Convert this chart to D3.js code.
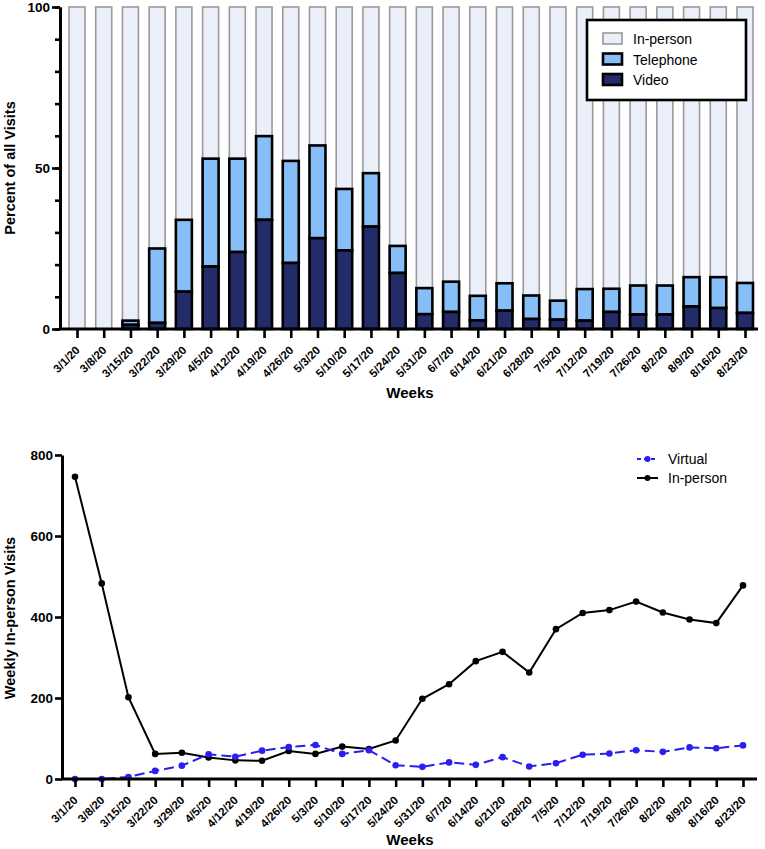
<!DOCTYPE html>
<html lang="en">
<head>
<meta charset="utf-8" />
<script src="https://cdn.jsdelivr.net/npm/d3@7"></script>
<style>
  body { margin: 0; background: #fff; }
  text { font-family: "Liberation Sans", Arial, sans-serif; }
</style>
</head>
<body>
<script>

var weeks = ["3/1/20","3/8/20","3/15/20","3/22/20","3/29/20","4/5/20","4/12/20","4/19/20",
  "4/26/20","5/3/20","5/10/20","5/17/20","5/24/20","5/31/20","6/7/20","6/14/20","6/21/20",
  "6/28/20","7/5/20","7/12/20","7/19/20","7/26/20","8/2/20","8/9/20","8/16/20","8/23/20"];

// percent of all visits (top chart)
var videoPct =     [0,0,1.3,1.9,11.6,19.4,23.9,33.9,20.5,28.2,24.4,31.8,17.4,4.6,5.3,2.7,5.7,3.1,2.9,2.6,5.3,4.5,4.5,7.0,6.5,5.0];
var telephonePct = [0,0,1.3,23.1,22.3,33.5,29.0,26.0,31.7,28.8,19.1,16.6,8.4,8.1,9.4,7.6,8.5,7.3,5.9,9.8,7.2,9.0,9.0,9.1,9.6,9.3];
var inPersonPct =  [100,100,97.4,75.0,66.1,47.1,47.1,40.1,47.8,43.0,56.5,51.6,74.2,87.3,85.3,89.7,85.8,89.6,91.2,87.6,87.5,86.5,86.5,83.9,83.9,85.7];

// weekly visits (bottom chart)
var virtualVisits =  [0,0,5,20,33,61,55,70,79,84,62,71,34,30,41,35,54,31,39,60,63,71,67,78,76,83];
var inPersonVisits = [746,483,202,62,65,53,46,45,69,62,80,74,95,198,234,291,314,263,370,410,417,438,411,394,385,478];

var pctTicks = [0, 50, 100];
var visitTicks = [0, 200, 400, 600, 800];

var w = 765, h = 849;
var svg = d3.select("body").append("svg").attr("width", w).attr("height", h);

var rows = weeks.map(function(d, i) {
  return { week: d, Video: videoPct[i], Telephone: telephonePct[i], "In-person": inPersonPct[i] };
});
var keys = ["Video", "Telephone", "In-person"];
var fills = { "Video": "#232b69", "Telephone": "#86bef7", "In-person": "#ebeffa" };
var strokes = { "Video": "#000", "Telephone": "#000", "In-person": "#9a9a9a" };

//---------- top chart
var x1 = d3.scalePoint().domain(weeks).range([77, 745]);
var y1 = d3.scaleLinear().domain([0, 100]).range([329, 7]);
var barW = 16;

var series = d3.stack().keys(keys)(rows);
var topG = svg.append("g");

// draw in-person first so the outlined virtual segments sit on top
[2, 1, 0].forEach(function(k) {
  var s = series[k];
  topG.append("g").selectAll("rect")
    .data(s)
    .enter()
    .append("rect")
    .attr("x", function(d) { return x1(d.data.week) - barW / 2; })
    .attr("y", function(d) { return y1(d[1]); })
    .attr("width", barW)
    .attr("height", function(d) { return y1(d[0]) - y1(d[1]); })
    .attr("fill", fills[s.key])
    .attr("stroke", strokes[s.key])
    .attr("stroke-width", s.key == "In-person" ? 1.6 : 2.6)
    .style("display", function(d) { return (d[1] - d[0]) > 0 ? null : "none"; });
});

// y axis top
var yAxis1 = topG.append("g").attr("transform", "translate(60,0)");
yAxis1.call(d3.axisLeft(y1).tickValues(d3.range(0, 101, 10)).tickSize(5).tickFormat("").tickSizeOuter(0));
yAxis1.append("g").call(d3.axisLeft(y1).tickValues(pctTicks).tickSize(8).tickSizeOuter(0));
styleAxis(yAxis1);
yAxis1.selectAll("text").attr("x", -10).style("font-size", "13.5px");

// x axis top
var xAxis1 = topG.append("g").attr("transform", "translate(0,329)");
xAxis1.call(d3.axisBottom(x1).tickSize(9).tickSizeOuter(0));
xAxis1.select(".domain").remove();
xAxis1.append("line").attr("x1", 59).attr("x2", 758).attr("stroke", "#000").attr("stroke-width", 3);
styleAxis(xAxis1);
rotateLabels(xAxis1);

topG.append("text")
  .attr("transform", "translate(15,168) rotate(-90)")
  .attr("text-anchor", "middle")
  .style("font-size", "14.5px").style("font-weight", "bold")
  .text("Percent of all Visits");
topG.append("text")
  .attr("x", 410).attr("y", 398)
  .attr("text-anchor", "middle")
  .style("font-size", "15px").style("font-weight", "bold")
  .text("Weeks");

// legend top
var leg1 = topG.append("g");
leg1.append("rect").attr("x", 587).attr("y", 20).attr("width", 159).attr("height", 80)
  .attr("fill", "#fff").attr("stroke", "#000").attr("stroke-width", 2.6);
["In-person", "Telephone", "Video"].forEach(function(k, i) {
  var yy = 33 + i * 20.5;
  leg1.append("rect").attr("x", 603).attr("y", yy).attr("width", 19).attr("height", 11)
    .attr("fill", fills[k]).attr("stroke", strokes[k]).attr("stroke-width", k == "In-person" ? 1.6 : 2.6);
  leg1.append("text").attr("x", 633).attr("y", yy + 11)
    .style("font-size", "14px").text(k);
});

//---------- bottom chart
var x2 = d3.scalePoint().domain(weeks).range([75, 743]);
var y2 = d3.scaleLinear().domain([0, 800]).range([779, 455]);
var bottomG = svg.append("g");

var line = d3.line()
  .x(function(d, i) { return x2(weeks[i]); })
  .y(function(d) { return y2(d); });

bottomG.append("path").datum(inPersonVisits)
  .attr("d", line).attr("fill", "none").attr("stroke", "#000").attr("stroke-width", 2);
bottomG.append("g").selectAll("circle")
  .data(inPersonVisits).enter().append("circle")
  .attr("cx", function(d, i) { return x2(weeks[i]); })
  .attr("cy", function(d) { return y2(d); })
  .attr("r", 3.3).attr("fill", "#000");

bottomG.append("path").datum(virtualVisits)
  .attr("d", line).attr("fill", "none").attr("stroke", "#2b1ef2").attr("stroke-width", 2)
  .attr("stroke-dasharray", "10,5");
bottomG.append("g").selectAll("circle")
  .data(virtualVisits).enter().append("circle")
  .attr("cx", function(d, i) { return x2(weeks[i]); })
  .attr("cy", function(d) { return y2(d); })
  .attr("r", 3.3).attr("fill", "#2b1ef2");

var yAxis2 = bottomG.append("g").attr("transform", "translate(62,0)");
yAxis2.call(d3.axisLeft(y2).tickValues(visitTicks).tickSize(7).tickSizeOuter(0));
styleAxis(yAxis2);
yAxis2.selectAll("text").attr("x", -9).style("font-size", "13.5px");

var xAxis2 = bottomG.append("g").attr("transform", "translate(0,779)");
xAxis2.call(d3.axisBottom(x2).tickSize(8).tickSizeOuter(0));
xAxis2.select(".domain").remove();
xAxis2.append("line").attr("x1", 61).attr("x2", 757).attr("stroke", "#000").attr("stroke-width", 3);
styleAxis(xAxis2);
rotateLabels(xAxis2);

bottomG.append("text")
  .attr("transform", "translate(15,618) rotate(-90)")
  .attr("text-anchor", "middle")
  .style("font-size", "14.5px").style("font-weight", "bold")
  .text("Weekly In-person Visits");
bottomG.append("text")
  .attr("x", 410).attr("y", 845)
  .attr("text-anchor", "middle")
  .style("font-size", "15px").style("font-weight", "bold")
  .text("Weeks");

// legend bottom
var leg2 = bottomG.append("g");
[["Virtual", "#2b1ef2", "4,3"], ["In-person", "#000", null]].forEach(function(e, i) {
  var yy = 459 + i * 19;
  leg2.append("line").attr("x1", 637).attr("x2", 658).attr("y1", yy).attr("y2", yy)
    .attr("stroke", e[1]).attr("stroke-width", 2).attr("stroke-dasharray", e[2]);
  leg2.append("circle").attr("cx", 647.5).attr("cy", yy).attr("r", 3).attr("fill", e[1]);
  leg2.append("text").attr("x", 668).attr("y", yy + 5).style("font-size", "14px").text(e[0]);
});

function styleAxis(g) {
  g.selectAll(".domain").attr("stroke", "#000").attr("stroke-width", 3);
  g.selectAll(".tick line").attr("stroke", "#000").attr("stroke-width", 2.6);
  g.selectAll("text").attr("fill", "#000")
    .style("font-family", "'Liberation Sans', Arial, sans-serif")
    .style("font-weight", "bold");
}

function rotateLabels(g) {
  g.selectAll(".tick text")
    .attr("x", 0).attr("y", 0).attr("dy", 0)
    .attr("text-anchor", "end")
    .attr("transform", "translate(3,22) rotate(-45)")
    .style("font-size", "11.5px");
}

</script>
</body>
</html>
